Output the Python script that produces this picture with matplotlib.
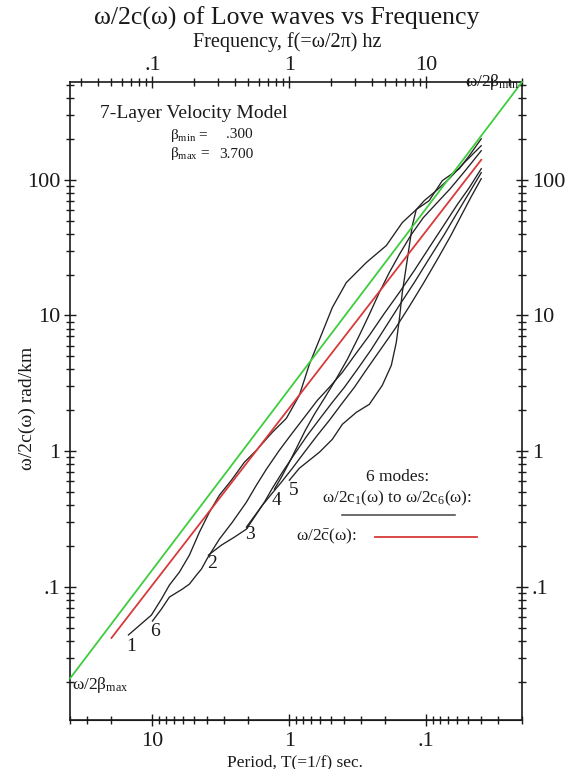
import numpy as np
import matplotlib
matplotlib.use("Agg")
import matplotlib.pyplot as plt
from matplotlib.ticker import NullFormatter, FixedLocator

plt.rcParams['font.family'] = ['Liberation Serif', 'DejaVu Serif']
plt.rcParams['mathtext.fontset'] = 'custom'
plt.rcParams['mathtext.rm'] = 'Liberation Serif'
plt.rcParams['mathtext.it'] = 'Liberation Serif:italic'

# ---------------- data ----------------
beta_min = 0.300
beta_max = 3.700
freq_range = [0.025, 50.0]          # Hz

# reference line omega/2beta_max -> omega/2beta_min
green_f = [0.025, 50.0]
green_v = [np.pi * 0.025 / beta_max, np.pi * 50.0 / beta_min]

# mean curve omega/2c_bar
red_f = [0.0502, 25.2]
red_v = [0.0422, 140.0]

# six modes omega/2c_n(omega)
f1 = [0.0668, 0.0983, 0.1163, 0.1330, 0.1574, 0.1862, 0.2203, 0.2607, 0.3083, 0.3773,
      0.4694, 0.5742, 0.7514, 0.951, 1.183, 1.399, 1.741, 2.060, 2.607, 3.648, 5.105,
      6.68, 8.45, 10.5, 13.09, 17.41, 20.6, 25.2]
v1 = [0.0444, 0.0622, 0.0816, 0.1034, 0.1289, 0.1719, 0.2537, 0.3560, 0.4748, 0.6118,
      0.830, 1.017, 1.380, 1.748, 2.581, 4.362, 7.50, 11.45, 17.48, 24.53, 32.71,
      48.3, 60.2, 70.1, 98.3, 120.4, 150.2, 200.0]

f2 = [0.2563, 0.3189, 0.3968, 0.4855, 0.5742, 0.657, 0.7514, 0.889, 1.088, 1.353, 1.656,
      2.060, 2.520, 3.136, 3.968, 5.020, 6.353, 8.175, 10.5, 13.53, 16.84, 20.6, 25.2]
v2 = [0.1719, 0.2036, 0.2332, 0.2670, 0.3441, 0.4217, 0.5344, 0.7008, 0.9504, 1.311, 1.719,
      2.293, 2.955, 4.009, 5.623, 8.160, 11.85, 17.48, 26.25, 39.4, 57.2, 80.2, 112.6]

f3 = [0.4855, 0.5553, 0.6353, 0.7390, 0.8744, 1.052, 1.287, 1.601, 1.959, 2.396, 2.982,
      3.709, 4.693, 5.939, 7.515, 9.508, 12.03, 14.97, 18.01, 21.30, 25.2]
v3 = [0.2762, 0.3326, 0.4008, 0.4830, 0.5918, 0.7499, 0.983, 1.311, 1.690, 2.216, 2.955,
      4.077, 5.720, 8.024, 11.65, 17.19, 25.80, 38.1, 54.4, 75.0, 101.7]

f4 = [0.7772, 0.8744, 1.0, 1.144, 1.308, 1.522, 1.801, 2.166, 2.651, 3.243, 3.836, 4.539,
      5.370, 6.353, 7.771, 9.508, 11.83, 14.97, 19.26, 25.2]
v4 = [0.5254, 0.6439, 0.830, 1.088, 1.427, 1.871, 2.453, 3.327, 4.748, 7.127, 10.17, 14.76,
      20.71, 28.09, 39.4, 52.5, 66.6, 85.9, 116.5, 163.4]

f5 = [1.0, 1.183, 1.399, 1.656, 2.060, 2.437, 3.084, 3.836, 4.772, 5.553, 6.039, 6.353,
      6.68, 7.265, 7.903, 8.45, 9.670, 11.83, 14.72, 18.94, 25.2]
v5 = [0.6118, 0.7499, 0.8586, 0.983, 1.225, 1.579, 1.935, 2.216, 3.057, 4.289, 6.332, 9.345,
      14.76, 25.80, 45.9, 60.2, 70.1, 83.0, 101.7, 133.4, 177.8]

f6 = [0.1, 0.1163, 0.1330, 0.1656, 0.1862, 0.2096, 0.2279, 0.2521, 0.3083, 0.3836, 0.4855,
      0.5742, 0.6794, 0.8453, 1.034, 1.287, 1.601, 1.959, 2.437, 3.032, 3.836, 4.935,
      6.353, 8.175, 10.5, 13.53, 16.84, 20.6, 25.2]
v6 = [0.0562, 0.0689, 0.0844, 0.0967, 0.1052, 0.1225, 0.1357, 0.1634, 0.2254, 0.3006, 0.4217,
      0.5623, 0.7375, 1.017, 1.334, 1.778, 2.371, 2.955, 3.810, 5.168, 7.127, 10.34,
      14.76, 21.42, 31.62, 46.7, 65.5, 87.3, 120.4]

modes_f = [f1, f2, f3, f4, f5, f6]
modes_v = [v1, v2, v3, v4, v5, v6]
mode_labels = ['1', '2', '3', '4', '5', '6']

y_ticks = [0.1, 1, 10, 100]
y_ticklabels = ['.1', '1', '10', '100']
f_ticks = [0.1, 1, 10]
f_ticklabels = ['.1', '1', '10']
T_ticks = [10, 1, 0.1]
T_ticklabels = ['10', '1', '.1']

# ---------------- figure ----------------
TXT = '#1a1a1a'
fig = plt.figure(figsize=(5.74, 7.69), dpi=100)
ax = fig.add_axes([70/574, 49/769, 452/574, 638/769])
ax.set_xscale('log')
ax.set_yscale('log')
ax.set_xlim(freq_range)
ax.set_ylim(0.0105, np.pi * 50.0 / beta_min)

ax.plot(green_f, green_v, color='#3fcc3f', lw=1.3, zorder=3, clip_on=False)
ax.plot(red_f, red_v, color='#d83a3a', lw=1.3, zorder=3)
for fx, vy in zip(modes_f, modes_v):
    ax.plot(fx, vy, color='#222222', lw=0.95, zorder=2)

# ticks
decades = [0.001, 0.01, 0.1, 1, 10, 100]
minor_y = [m * d for d in decades for m in range(2, 10) if 0.0105 <= m * d <= 524]
minor_f = [m * d for d in decades for m in range(2, 10) if 0.025 <= m * d <= 50]
minor_T = [m * d for d in decades for m in range(2, 10) if 0.02 <= m * d <= 40]

ax.set_yticks(y_ticks, y_ticklabels)
ax.yaxis.set_minor_locator(FixedLocator(minor_y))
ax.yaxis.set_minor_formatter(NullFormatter())
ax.set_xticks(f_ticks, f_ticklabels)
ax.xaxis.set_minor_locator(FixedLocator(minor_f))
ax.xaxis.set_minor_formatter(NullFormatter())

ax.tick_params(axis='y', which='both', left=True, right=True, labelleft=True,
               labelright=True, direction='inout', colors=TXT, labelsize=16, pad=2.5)
ax.tick_params(axis='x', which='both', bottom=False, top=True, labelbottom=False,
               labeltop=True, direction='inout', colors=TXT, labelsize=16, pad=0.5)
ax.tick_params(which='major', length=9, width=1.0)
ax.tick_params(which='minor', length=6, width=1.0)

sec = ax.secondary_xaxis('bottom', functions=(lambda f: 1.0 / f, lambda T: 1.0 / T))
sec.set_xticks(T_ticks, T_ticklabels)
sec.xaxis.set_minor_locator(FixedLocator(minor_T))
sec.xaxis.set_minor_formatter(NullFormatter())
sec.tick_params(which='both', direction='inout', colors=TXT, labelsize=16, pad=4)
sec.tick_params(which='major', length=9, width=1.0)
sec.tick_params(which='minor', length=6, width=1.0)
sec.spines['bottom'].set_color(TXT)

for s in ax.spines.values():
    s.set_color(TXT)
    s.set_linewidth(1.2)

# ---------------- texts ----------------
fig.text(0.5, 1 - 18/769, 'ω/2c(ω) of Love waves vs Frequency', ha='center', va='center',
         fontsize=18.5, color=TXT)
fig.text(0.5, 1 - 42/769, 'Frequency, f(=ω/2π) hz', ha='center', va='center',
         fontsize=14.5, color=TXT)
fig.text(295/574, 1 - 762/769, 'Period, T(=1/f) sec.', ha='center', va='center',
         fontsize=12.5, color=TXT)
fig.text(27/574, 1 - 408/769, 'ω/2c(ω) rad/km', ha='center', va='center',
         rotation=90, fontsize=14, color=TXT)

tA = ax.transAxes
ax.text(0.0664, 0.9514, '7-Layer Velocity Model', transform=tA, ha='left', va='center',
        fontsize=14, color=TXT)
ax.text(0.2212, (720 - 135) / 638, r'β$_{\mathrm{min}}$ =', transform=tA, ha='left',
        va='center', fontsize=11, color=TXT)
ax.text(0.4049, (720 - 135) / 638, '.300', transform=tA, ha='right', va='center',
        fontsize=11, color=TXT)
ax.text(0.2212, (720 - 154) / 638, r'β$_{\mathrm{max}}$ =', transform=tA, ha='left',
        va='center', fontsize=11, color=TXT)
ax.text(0.4049, (720 - 154) / 638, '3.700', transform=tA, ha='right', va='center',
        fontsize=11, color=TXT)

ax.text(0.9956, 1.0, r'ω/2β$_{\mathrm{min}}$', transform=tA, ha='right', va='center',
        fontsize=12.5, color=TXT, zorder=5)
ax.text(0.004, 0.0549, r'ω/2β$_{\mathrm{max}}$', transform=tA, ha='left', va='center',
        fontsize=12.5, color=TXT)

ax.text(0.7257, 0.3813, '6 modes:', transform=tA, ha='center', va='center',
        fontsize=12.5, color=TXT)
ax.text(0.7228, 0.3475, r'ω/2c$_1$(ω) to ω/2c$_6$(ω):', transform=tA, ha='center',
        va='center', fontsize=12.3, color=TXT)
ax.plot([0.601, 0.8518], [0.3213, 0.3213], transform=tA, color='#444444', lw=1.1)
ax.text(0.635, 0.2884, r'ω/2$\bar{\mathrm{c}}$(ω):', transform=tA, ha='right',
        va='center', fontsize=12.5, color=TXT)
ax.plot([0.6748, 0.8998], [0.2864, 0.2864], transform=tA, color='#d83a3a', lw=1.3)

label_pos = {'1': (0.1343, 0.1149), '6': (0.1881, 0.1384), '2': (0.3135, 0.2456),
             '3': (0.3982, 0.2915), '4': (0.4573, 0.3448), '5': (0.4940, 0.3605)}
for lab in mode_labels:
    x, y = label_pos[lab]
    ax.text(x, y, lab, transform=tA, ha='center', va='center', fontsize=14, color=TXT)

fig.savefig('out.png', dpi=100)
